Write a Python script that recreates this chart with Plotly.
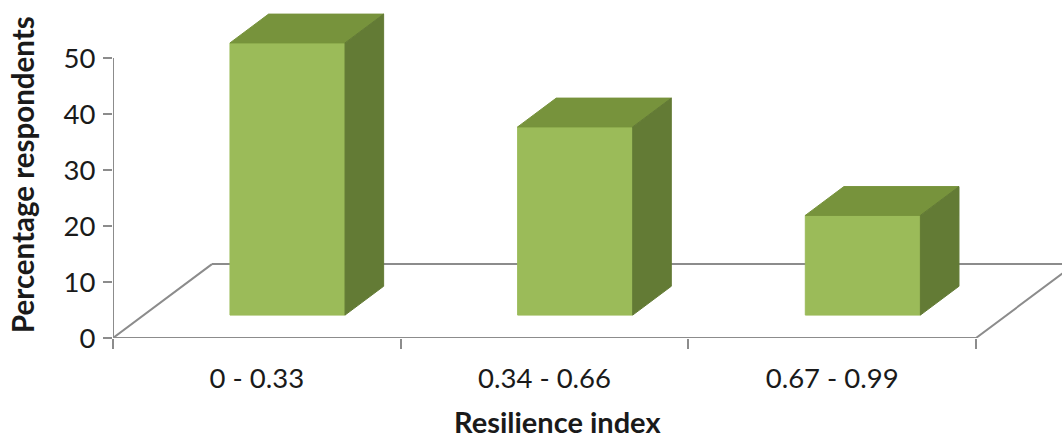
import plotly.graph_objects as go

# ---- data ----
categories = ["0 - 0.33", "0.34 - 0.66", "0.67 - 0.99"]
percent = [48.6, 33.6, 17.8]
y_ticks = [0, 10, 20, 30, 40, 50]
x_title = "Resilience index"
y_title = "Percentage respondents"

# ---- oblique 3-D projection styling ----
FLOOR_DX = 0.344   # depth shift of the floor, category units
FLOOR_DY = 13.2    # depth shift of the floor, value units
BAR_FRONT = 0.31   # depth fraction where bar fronts sit
BAR_DEPTH = 0.39   # depth fraction occupied by bars
BAR_W = 0.40       # bar width, category units

FRONT = "#9BBB59"
TOP = "#77933C"
SIDE = "#637B35"
GRID = "#8C8C8C"
TXT = "#1a1a1a"
FONT = "Lato"

n = len(categories)
xs = list(range(n))
x0, x1 = -0.5, n - 0.5

fig = go.Figure()


def line(px, py, color=GRID, width=2):
    fig.add_trace(go.Scatter(x=px, y=py, mode="lines", line=dict(color=color, width=width),
                             hoverinfo="skip", showlegend=False))


def poly(px, py, color):
    fig.add_trace(go.Scatter(x=px + [px[0]], y=py + [py[0]], mode="lines", fill="toself",
                             fillcolor=color, line=dict(color=color, width=1),
                             hoverinfo="skip", showlegend=False))


# floor outline and value axis line
line([x0 + FLOOR_DX, x1 + FLOOR_DX + 1], [FLOOR_DY, FLOOR_DY])
line([x0 + FLOOR_DX, x0, x1, x1 + FLOOR_DX], [FLOOR_DY, 0, 0, FLOOR_DY])
line([x0, x0], [0, max(y_ticks)])

# bars
ox, oy = BAR_FRONT * FLOOR_DX, BAR_FRONT * FLOOR_DY
dx, dy = BAR_DEPTH * FLOOR_DX, BAR_DEPTH * FLOOR_DY
for i, v in zip(xs, percent):
    left = i + ox - BAR_W / 2
    right = left + BAR_W
    bottom = oy
    top = oy + v
    poly([left, right, right, left], [bottom, bottom, top, top], FRONT)
    poly([left, right, right + dx, left + dx], [top, top, top + dy, top + dy], TOP)
    poly([right, right + dx, right + dx, right], [bottom, bottom + dy, top + dy, top], SIDE)

# invisible trace on x2 so the tick-mark axis is drawn
fig.add_trace(go.Scatter(x=[x0], y=[0], xaxis="x2", mode="markers", marker=dict(opacity=0),
                         hoverinfo="skip", showlegend=False))

PX_PER_CAT = (976 - 113) / n
fig.update_layout(
    width=1062, height=441,
    margin=dict(l=113, r=0, t=8, b=103),
    paper_bgcolor="white", plot_bgcolor="white",
    font=dict(family=FONT, color=TXT),
    showlegend=False,
    xaxis=dict(range=[x0, x1 + (1062 - 976) / PX_PER_CAT], tickvals=xs, ticktext=categories,
               ticks="", showgrid=False, zeroline=False, showline=False,
               tickfont=dict(size=27.5, color=TXT, family=FONT), ticklabelstandoff=21),
    xaxis2=dict(range=[x0, x1 + (1062 - 976) / PX_PER_CAT], overlaying="x", anchor="y", side="bottom",
                tickvals=[x0 + k for k in range(n + 1)], ticks="outside", ticklen=10, tickwidth=2,
                tickcolor=GRID, showticklabels=False, showgrid=False, zeroline=False, showline=False),
    yaxis=dict(range=[0, 330 / 5.6], tickvals=y_ticks, ticks="outside", ticklen=9, tickwidth=2,
               tickcolor=GRID, showgrid=False, zeroline=False, showline=False,
               tickfont=dict(size=27.5, color=TXT, family=FONT), ticklabelstandoff=2),
    annotations=[
        dict(text="<b>" + x_title + "</b>", xref="paper", yref="paper",
             x=(557 - 113) / 949, y=-(440 - 338) / 330, xanchor="center", yanchor="bottom",
             borderpad=0, showarrow=False, font=dict(size=29, family=FONT, color=TXT)),
        dict(text="<b>" + y_title + "</b>", xref="paper", yref="paper",
             x=-(113 - 22) / 949, y=(338 - 175) / 330, xanchor="center", yanchor="middle",
             textangle=-90, showarrow=False, font=dict(size=29.5, family=FONT, color=TXT)),
    ],
)

fig.write_html("out.html")
